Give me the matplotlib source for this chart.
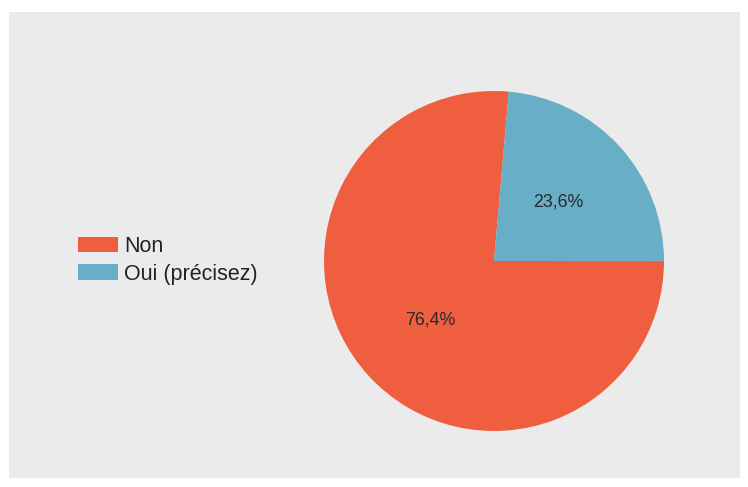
import matplotlib
matplotlib.use("Agg")
import matplotlib.pyplot as plt
from matplotlib.patches import Rectangle, Patch

categories = ["Non", "Oui (précisez)"]
values = [76.4, 23.6]
colors = ["#EF5F3F", "#68AEC6"]

plt.rcParams['font.family'] = ['Liberation Sans', 'DejaVu Sans']

fig = plt.figure(figsize=(7.48, 4.87), dpi=100)
fig.patch.set_facecolor("white")
fig.patches.append(Rectangle((9/748, 1 - 478/487), (740-9)/748, (478-12)/487,
                             transform=fig.transFigure, facecolor="#EBEBEB",
                             edgecolor="none", zorder=-10))

ax = fig.add_axes([324/748, 1 - 431/487, 340/748, 340/487])
ax.set_zorder(5)
ax.patch.set_visible(False)
wedges, texts, autotexts = ax.pie(values, colors=colors, startangle=85,
                                  counterclock=True, radius=1,
                                  autopct=lambda p: f"{p:.1f}%".replace(".", ","),
                                  pctdistance=0.51,
                                  textprops=dict(fontsize=12.8, color="#2a2a2a"),
                                  wedgeprops=dict(linewidth=0))
ax.set_xlim(-1, 1)
ax.set_ylim(-1, 1)
ax.set_aspect("equal")
ax.axis("off")

handles = [Patch(facecolor=c, edgecolor="none") for c in colors]
leg = fig.legend(handles, categories, loc="upper left",
                 bbox_to_anchor=(63/748, 1 - 221/487), frameon=False,
                 fontsize=15.5, handlelength=1.85, handleheight=0.7,
                 labelspacing=0.3, handletextpad=0.3, borderpad=0.2)
for t in leg.get_texts():
    t.set_color("#222222")

fig.savefig("out.png", dpi=100)
